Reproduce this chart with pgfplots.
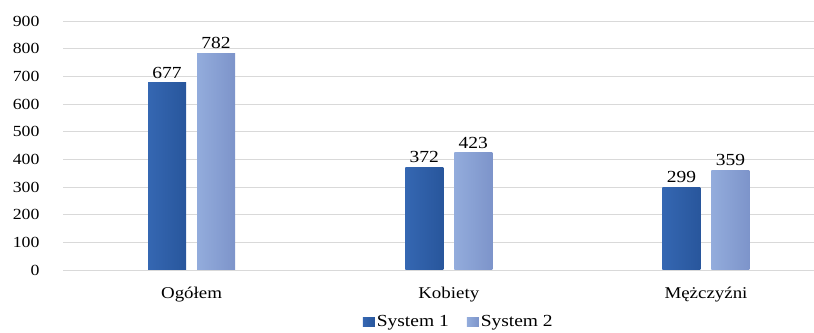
\documentclass[border=0pt]{standalone}
\usepackage{fontspec}
\setmainfont{Liberation Serif}[FakeStretch=1.15]
\usepackage{pgfplots}
\pgfplotsset{compat=1.18}
\definecolor{sAl}{HTML}{3567B2}
\definecolor{sAm}{HTML}{2F61AC}
\definecolor{sAr}{HTML}{28569C}
\definecolor{sBl}{HTML}{93ACDC}
\definecolor{sBm}{HTML}{9AB2E0}
\definecolor{sBr}{HTML}{7D94CA}
\definecolor{gridc}{HTML}{D9D9D9}
\pgfplotsset{
  sysA/.style={ybar, bar width=38bp, bar shift=-24.5bp, draw=none,
    left color=sAl, middle color=sAm, right color=sAr},
  sysB/.style={ybar, bar width=38bp, bar shift=24.5bp, draw=none,
    left color=sBl, middle color=sBm, right color=sBr},
}
\begin{document}
\begin{tikzpicture}
\useasboundingbox (0,0) rectangle (814bp,333bp);
\begin{axis}[
  at={(63bp,63bp)}, anchor=south west,
  scale only axis, width=751bp, height=249bp,
  xmin=-0.5, xmax=2.42, ymin=0, ymax=900,
  ybar, bar width=38bp,
  ytick={0,100,...,900},
  xtick={0,1,2},
  xticklabels={Ogółem,Kobiety,Mężczyźni},
  axis line style={draw=none},
  major tick length=0pt,
  ymajorgrids, grid style={gridc, line width=0.8bp},
  yticklabel style={xshift=-20bp, font=\fontsize{15.5}{18}\selectfont},
  xticklabel style={yshift=-14bp, font=\fontsize{16.5}{18}\selectfont},
  /pgf/number format/assume math mode=true,
  clip=false,
  legend style={at={(0.527,-0.209)}, anchor=center, draw=none, fill=none,
    legend columns=2, font=\fontsize{17}{19}\selectfont,
    /tikz/every even column/.append style={column sep=16bp},
    inner sep=0pt, cells={anchor=west}},
  legend image code/.code={\path[#1,draw=none] (0bp,-4.5bp) rectangle (12bp,4.5bp);},
  nodes near coords,
  every node near coord/.append style={font=\fontsize{17}{19}\selectfont, yshift=1bp},
]
\addplot[sysA] coordinates {(0,677)};
\addlegendentry{System 1}
\addplot[sysB] coordinates {(0,782)};
\addlegendentry{System 2}
\addplot[sysA, forget plot] coordinates {(1,372)};
\addplot[sysB, forget plot] coordinates {(1,423)};
\addplot[sysA, forget plot] coordinates {(2,299)};
\addplot[sysB, forget plot] coordinates {(2,359)};
\end{axis}
\end{tikzpicture}
\end{document}
